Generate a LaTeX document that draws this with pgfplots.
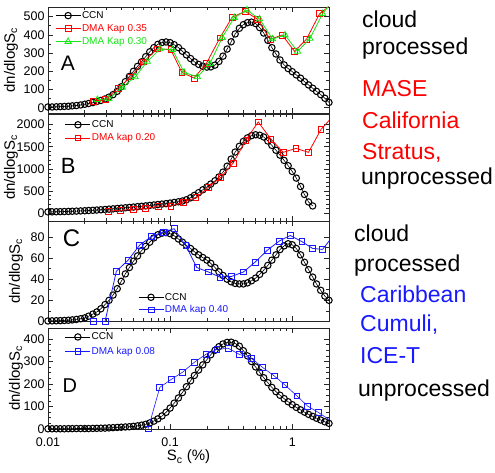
\documentclass[border=0pt]{standalone}
\usepackage{fontspec}
\setmainfont{Liberation Sans}
\usepackage{pgfplots}
\pgfplotsset{compat=1.18}
\usepackage{pgfplotstable}

\definecolor{dmared}{RGB}{255,0,0}
\definecolor{dmagreen}{RGB}{20,230,20}
\definecolor{dmablue}{RGB}{25,25,255}

% CCN spectra, one column per panel (nan = no data)
\pgfplotstableread{
S      A    B     C     D
0.0100 4    25    0.5   1
0.0108 4    27    0.6   1
0.0117 5    29    0.7   1
0.0126 6    31    0.8   1
0.0136 7    34    1.0   1
0.0147 8    37    1.2   1.5
0.0158 10   40    1.5   1.5
0.0171 12   44    2.0   2
0.0185 15   48    2.6   2
0.0200 19   52    3.4   2
0.0215 23   57    5     2
0.0233 28   62    7     2.5
0.0251 34   68    9     3
0.0271 40   74    12    3.5
0.0293 48   80    16    4
0.0316 58   88    20    5
0.0341 72   95    25    6
0.0369 90   103   31    7
0.0398 115  111   38    8
0.0430 143  119   45    9
0.0464 172  127   51    10
0.0501 200  135   57    12
0.0541 227  144   62    14
0.0584 252  153   67    17
0.0631 280  162   71    21
0.0681 307  172   75    27
0.0736 330  182   79    35
0.0794 348  192   82    45
0.0858 358  203   83.5  58
0.0926 361  213   84    74
0.100  357  225   83    93
0.108  346  240   81    115
0.117  330  255   78    138
0.126  310  272   75    162
0.136  290  300   72    188
0.147  270  345   69    214
0.158  252  400   66    238
0.171  238  460   63    262
0.185  228  525   60.5  285
0.200  223  590   58    308
0.215  224  655   55    330
0.233  234  730   51    350
0.251  254  815   47    366
0.271  283  925   43.5  378
0.293  322  1060  40    385
0.316  362  1220  37.5  386
0.341  405  1380  36    380
0.369  436  1510  35.5  368
0.398  456  1620  35.5  348
0.430  467  1700  36.5  325
0.464  470  1750  38.5  300
0.501  462  1770  41    276
0.541  440  1760  44.5  252
0.584  410  1720  48.5  228
0.631  370  1630  53    206
0.681  330  1530  58    185
0.736  295  1420  63    166
0.794  262  1310  68    150
0.858  235  1190  71.5  135
0.926  215  1070  73.5  121
1.00   198  940   72.5  108
1.08   180  790   69    96
1.17   162  600   63    85
1.26   143  420   56    75
1.36   125  250   49    65
1.47   107  160   42    56
1.58   90   nan   35.5  48
1.71   72   nan   29.5  40
1.85   52   nan   24    32
2.00   29   nan   20    25
}\ccn

% settings shared by the four panels
\pgfplotsset{
  scale only axis, width=281pt,
  xmin=0.01, xmax=2,
  xtick={0.01,0.1,1}, xticklabels={},
  minor xtick={0.02,0.03,0.04,0.05,0.06,0.07,0.08,0.09,0.2,0.3,0.4,0.5,0.6,0.7,0.8,0.9,2},
  tick align=inside, major tick length=5pt, minor tick length=3pt,
  axis line style={line width=0.8pt, black!85},
  tick style={black!85, line width=0.6pt},
  tick label style={font=\fontsize{12.5}{14}\selectfont},
  /pgf/number format/assume math mode=true,
  /pgf/number format/set thousands separator={},
  scaled y ticks=false,
  clip mode=individual,
  legend cell align=left,
  legend image code/.code={\draw[mark repeat=2,mark phase=2,#1] plot coordinates {(0pt,0pt) (12.5pt,0pt) (25pt,0pt)};},
  ylabel={dn/dlogS\textsubscript{c}},
  label style={font=\fontsize{15}{17}\selectfont},
  ccnstyle/.style={black, line width=0.6pt, mark=o, mark size=3.2pt, mark options={line width=1.05pt}},
  dmastyle/.style={#1, line width=0.8pt, mark=square, mark size=2.9pt, mark options={line width=0.8pt}},
}

\begin{document}
\begin{tikzpicture}
\path[use as bounding box] (0,0) rectangle (495pt,473pt);

% ---- A ----
\begin{semilogxaxis}[at={(48pt,360pt)}, anchor=south west, height=106pt,
  ymin=-29, ymax=553, ytick={0,100,...,500}, minor y tick num=1,
  ylabel style={at={([xshift=-37pt]rel axis cs:0,0.5)}, anchor=center},
  legend style={draw=none, fill=none, font=\fontsize{10}{11}\selectfont,
    at={(0.025,0.97)}, anchor=north west, row sep=2.5pt, inner sep=0pt, nodes={inner sep=1pt}}]
\addplot[ccnstyle] table[x=S, y=A] {\ccn};
\addlegendentry{CCN}
\addplot[dmastyle=dmared] coordinates {
 (0.0234,35)(0.0293,44)(0.0377,108)(0.0476,169)(0.0601,251)(0.0787,323)(0.1013,319)
 (0.1247,194)(0.1573,163)(0.1984,244)(0.2555,383)(0.3222,497)(0.4118,529)(0.5194,486)
 (0.658,376)(0.828,399)(1.044,309)(1.310,377)(1.674,516)};
\addlegendentry{\textcolor{dmared}{DMA Kap 0.35}}
\addplot[dmastyle=dmagreen, mark=triangle, mark size=3.6pt] coordinates {
 (0.0254,44)(0.0316,49)(0.0406,112)(0.0517,169)(0.0651,254)(0.0828,323)(0.1044,319)
 (0.1302,194)(0.1673,169)(0.2116,242)(0.267,385)(0.335,495)(0.426,536)(0.540,487)
 (0.690,377)(0.873,399)(1.105,309)(1.397,380)(1.772,516)};
\addlegendentry{\textcolor{dmagreen}{DMA Kap 0.30}}
\addplot[dmared, line width=0.8pt, forget plot] coordinates {(1.674,516)(2.1,567)};
\addplot[dmagreen, line width=0.8pt, forget plot] coordinates {(1.772,516)(2.22,600)};
\node[font=\fontsize{21}{21}\selectfont] at (rel axis cs:0.071,0.47) {A};
\end{semilogxaxis}

% ---- B ----
\begin{semilogxaxis}[at={(48pt,252pt)}, anchor=south west, height=107pt,
  ymin=-180, ymax=2240, ytick={0,500,...,2000}, minor y tick num=4,
  ylabel style={at={([xshift=-37pt]rel axis cs:0,0.5)}, anchor=center},
  legend style={draw=none, fill=none, font=\fontsize{10}{11}\selectfont,
    at={(0.06,0.95)}, anchor=north west, row sep=2.5pt, inner sep=0pt, nodes={inner sep=1pt}}]
\addplot[ccnstyle] table[x=S, y=B] {\ccn};
\addlegendentry{CCN}
\addplot[dmastyle=dmared] coordinates {
 (0.0312,45)(0.0394,62)(0.05,85)(0.0632,100)(0.0802,158)(0.1013,158)(0.1278,248)
 (0.1625,347)(0.206,584)(0.2604,810)(0.3284,1130)(0.4174,1650)(0.5264,2060)
 (0.669,1672)(0.844,1373)(1.072,1462)(1.36,1373)(1.719,1890)};
\addlegendentry{\textcolor{dmared}{DMA kap 0.20}}
\addplot[dmared, line width=0.8pt, forget plot] coordinates {(1.719,1890)(2.17,2200)};
\node[font=\fontsize{22}{22}\selectfont] at (rel axis cs:0.072,0.514) {B};
\end{semilogxaxis}

% ---- C ----
\begin{semilogxaxis}[at={(48pt,151.5pt)}, anchor=south west, height=100.5pt,
  ymin=0, ymax=95, ytick={0,20,...,80}, minor y tick num=1,
  ylabel style={at={([xshift=-32pt]rel axis cs:0,0.5)}, anchor=center},
  legend style={draw=none, fill=none, font=\fontsize{10}{11}\selectfont,
    at={(0.32,0.06)}, anchor=south west, row sep=2pt, inner sep=0pt, nodes={inner sep=1pt}}]
\addplot[ccnstyle] table[x=S, y=C] {\ccn};
\addlegendentry{CCN}
\addplot[dmastyle=dmablue] coordinates {
 (0.0235,0)(0.0293,0)(0.0363,47.5)(0.0453,58)(0.0564,72.3)(0.0703,80.3)(0.0876,84.5)
 (0.1078,87.7)(0.1345,71.6)(0.1655,51)(0.206,46.8)(0.2555,42)(0.318,42.6)(0.399,46.8)
 (0.4975,56.2)(0.627,67.5)(0.782,76)(0.963,81.3)(1.201,75.5)(1.467,69.1)(1.77,68.1)};
\addlegendentry{\textcolor{dmablue}{DMA kap 0.40}}
\addplot[dmablue, line width=0.8pt, forget plot] coordinates {(1.77,68.1)(2.2,82)};
\node[font=\fontsize{24}{24}\selectfont] at (rel axis cs:0.084,0.83) {C};
\end{semilogxaxis}

% ---- D ----
\begin{semilogxaxis}[at={(48pt,44pt)}, anchor=south west, height=101pt,
  ymin=0, ymax=449, ytick={0,100,...,400}, minor y tick num=3,
  xticklabels={0.01,0.1,1},
  xticklabel style={yshift=-5pt},
  xlabel={S\textsubscript{c} (\%)},
  xlabel style={at={([yshift=-32pt]rel axis cs:0.5,0)}, anchor=base},
  ylabel style={at={([xshift=-32pt]rel axis cs:0,0.5)}, anchor=center},
  legend style={draw=none, fill=none, font=\fontsize{10}{11}\selectfont,
    at={(0.06,0.965)}, anchor=north west, row sep=4pt, inner sep=0pt, nodes={inner sep=1pt}}]
\addplot[ccnstyle] table[x=S, y=D] {\ccn};
\addlegendentry{CCN}
\addplot[dmastyle=dmablue, line width=0.6pt] coordinates {
 (0.066,0)(0.0823,185)(0.1025,221)(0.1261,252)(0.1573,296)(0.1962,332)(0.2414,354)
 (0.2988,359)(0.368,332)(0.464,314)(0.571,274)(0.712,236)(0.871,196)(1.093,147)
 (1.335,102)(1.634,74)};
\addlegendentry{\textcolor{dmablue}{DMA kap 0.08}}
\addplot[dmablue, line width=0.6pt, forget plot] coordinates {(1.634,74)(2.03,40)};
\node[font=\fontsize{20}{20}\selectfont] at (rel axis cs:0.078,0.426) {D};
\end{semilogxaxis}

% ---- side notes ----
\begin{scope}[every node/.style={anchor=base west, inner sep=0pt, font=\fontsize{23}{27}\selectfont}]
\node at (362pt,445pt) {cloud};
\node at (362pt,418pt) {processed};
\node[dmared] at (362pt,376pt) {MASE};
\node[dmared] at (362pt,344pt) {California};
\node[dmared] at (362pt,313pt) {Stratus,};
\node at (361pt,288pt) {unprocessed};
\node at (354pt,231pt) {cloud};
\node at (354pt,201pt) {processed};
\node[dmablue] at (360pt,170pt) {Caribbean};
\node[dmablue] at (360pt,141pt) {Cumuli,};
\node[dmablue] at (360pt,109pt) {ICE-T};
\node at (358pt,76pt) {unprocessed};
\end{scope}
\end{tikzpicture}
\end{document}
